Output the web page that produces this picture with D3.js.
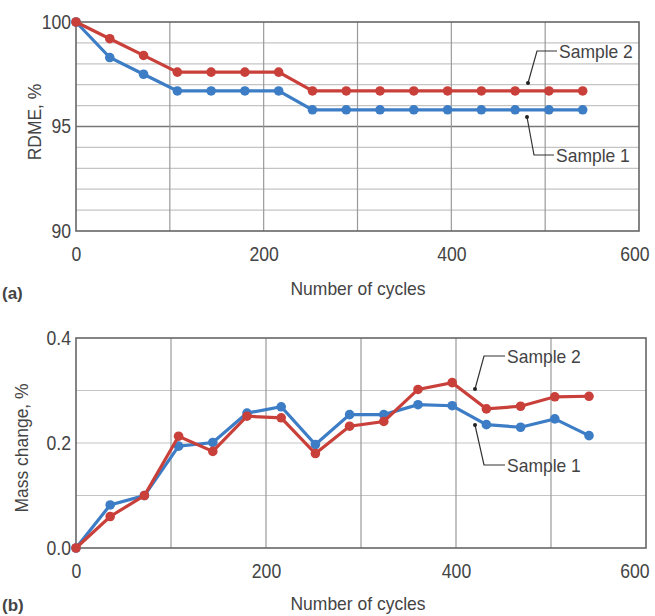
<!DOCTYPE html>
<html>
<head>
<meta charset="utf-8">
<script src="https://cdn.jsdelivr.net/npm/d3@7"></script>
<style>
  body { margin: 0; background: #fff; }
  text { font-family: "Liberation Sans", Arial, sans-serif; fill: #444; }
</style>
</head>
<body>
<svg id="chart" width="655" height="616"></svg>
<script>
// cycles at which the samples were measured
var cycles = [0, 36, 72, 108, 144, 180, 216, 252, 288, 324, 360, 396, 432, 468, 504, 540];

// (a) RDME, %
var rdmeSample1 = [100, 98.3, 97.5, 96.7, 96.7, 96.7, 96.7, 95.8, 95.8, 95.8, 95.8, 95.8, 95.8, 95.8, 95.8, 95.8];
var rdmeSample2 = [100, 99.2, 98.4, 97.6, 97.6, 97.6, 97.6, 96.7, 96.7, 96.7, 96.7, 96.7, 96.7, 96.7, 96.7, 96.7];

// (b) mass change, %
var massSample1 = [0, 0.082, 0.10, 0.194, 0.201, 0.257, 0.269, 0.197, 0.254, 0.254, 0.273, 0.271, 0.235, 0.230, 0.246, 0.214];
var massSample2 = [0, 0.060, 0.10, 0.213, 0.184, 0.251, 0.248, 0.180, 0.232, 0.241, 0.302, 0.315, 0.265, 0.270, 0.288, 0.289];

var xTicks = [0, 200, 400, 600];
var rdmeTicks = [90, 95, 100];
var massTicks = [0, 0.2, 0.4];

var red = "#c9403a", blue = "#3c7dc6";
var svg = d3.select("#chart");

function drawPanel(opt) {
    var x = d3.scaleLinear().domain([0, 600]).range([opt.left, opt.right]);
    var y = d3.scaleLinear().domain(opt.yDomain).range([opt.bottom, opt.top]);
    var g = svg.append("g");

    // grid
    g.selectAll(".hgrid").data(opt.yGrid).enter().append("line")
        .attr("x1", opt.left).attr("x2", opt.right)
        .attr("y1", function (d) { return y(d); }).attr("y2", function (d) { return y(d); })
        .attr("stroke", function (d) { return opt.yStrong.indexOf(d) >= 0 ? "#777" : "#c4c4c4"; })
        .attr("stroke-width", function (d) { return opt.yStrong.indexOf(d) >= 0 ? 1.6 : 1.2; });
    g.selectAll(".vgrid").data(d3.range(100, 600, 100)).enter().append("line")
        .attr("y1", opt.top).attr("y2", opt.bottom)
        .attr("x1", function (d) { return x(d); }).attr("x2", function (d) { return x(d); })
        .attr("stroke", "#9a9a9a").attr("stroke-width", 1.2);

    // frame
    g.append("rect")
        .attr("x", opt.left).attr("y", opt.top)
        .attr("width", opt.right - opt.left).attr("height", opt.bottom - opt.top)
        .attr("fill", "none").attr("stroke", "#666").attr("stroke-width", 1.6);

    // axes (labels only)
    var xAxis = d3.axisBottom(x).tickValues(xTicks).tickSize(0).tickPadding(16).tickFormat(d3.format("d"));
    var xg = g.append("g").attr("transform", "translate(0," + opt.bottom + ")").call(xAxis)
        .call(function (s) { s.select(".domain").remove(); });
    xg.selectAll("text").attr("class", "tick-label").style("font-size", "20px").attr("fill", "#444");
    // the last label is pulled inside the page, as in the figure
    xg.selectAll(".tick").filter(function (d) { return d === 600; }).select("text")
        .attr("text-anchor", "end").attr("x", 649 - opt.right);
    var yAxis = d3.axisLeft(y).tickValues(opt.yTicks).tickSize(0).tickPadding(5).tickFormat(opt.yFormat);
    g.append("g").attr("transform", "translate(" + opt.left + ",0)").call(yAxis)
        .call(function (s) { s.select(".domain").remove(); })
        .selectAll("text").attr("class", "tick-label").style("font-size", "20px").attr("fill", "#444");

    // series
    var line = d3.line().x(function (d) { return x(d[0]); }).y(function (d) { return y(d[1]); });
    [[opt.s1, blue], [opt.s2, red]].forEach(function (s) {
        var pts = cycles.map(function (c, i) { return [c, s[0][i]]; });
        g.append("path").datum(pts).attr("d", line)
            .attr("fill", "none").attr("stroke", s[1]).attr("stroke-width", 3.2);
        g.selectAll(null).data(pts).enter().append("circle")
            .attr("cx", function (d) { return x(d[0]); }).attr("cy", function (d) { return y(d[1]); })
            .attr("r", 4.8).attr("fill", s[1]);
    });

    // titles
    g.append("text").attr("class", "narrow").attr("x", 358).attr("y", opt.xTitleY)
        .attr("text-anchor", "middle").style("font-size", "19px").text("Number of cycles");
    g.append("text").attr("class", "narrow")
        .attr("transform", "translate(" + opt.yTitleX + "," + opt.yTitleY + ") rotate(-90)")
        .attr("text-anchor", "middle").style("font-size", "19px").text(opt.yTitle);
    g.append("text").attr("x", 2).attr("y", opt.tagY)
        .style("font-weight", "bold")
        .style("font-size", "17px").attr("fill", "#111").text(opt.tag);

    // callouts
    opt.callouts.forEach(function (c) {
        g.append("path")
            .attr("d", "M" + c.tx + "," + c.ty + "H" + c.kx + "L" + c.ax + "," + c.ay)
            .attr("fill", "none").attr("stroke", "#333").attr("stroke-width", 1.2);
        g.append("circle").attr("cx", c.ax).attr("cy", c.ay).attr("r", 2).attr("fill", "#222");
        g.append("text").attr("class", "narrow").attr("x", c.tx + 2).attr("y", c.ty + 7)
            .style("font-size", "19px").attr("fill", "#333").text(c.label);
    });
}

drawPanel({
    left: 76, right: 639, top: 22, bottom: 231,
    yDomain: [90, 100], yTicks: rdmeTicks, yFormat: d3.format("d"),
    yGrid: d3.range(91, 100), yStrong: [95],
    s1: rdmeSample1, s2: rdmeSample2,
    xTitleY: 295, yTitleX: 41, yTitleY: 122, yTitle: "RDME, %", tag: "(a)", tagY: 299,
    callouts: [
        { label: "Sample 2", tx: 557, ty: 51, kx: 537, ax: 528, ay: 83 },
        { label: "Sample 1", tx: 554, ty: 155, kx: 534, ax: 527, ay: 117 }
    ]
});

drawPanel({
    left: 76, right: 646, top: 338, bottom: 548,
    yDomain: [0, 0.4], yTicks: massTicks, yFormat: d3.format(".1f"),
    yGrid: [0.1, 0.2, 0.3], yStrong: [],
    s1: massSample1, s2: massSample2,
    xTitleY: 610, yTitleX: 28, yTitleY: 448, yTitle: "Mass change, %", tag: "(b)", tagY: 611,
    callouts: [
        { label: "Sample 2", tx: 505, ty: 356, kx: 484, ax: 475, ay: 389 },
        { label: "Sample 1", tx: 505, ty: 465, kx: 484, ax: 475, ay: 425 }
    ]
});

// squeeze the sans text toward the narrow face used in the figure
function squeeze(sel, k) {
    sel.each(function () {
        var w = this.getComputedTextLength();
        d3.select(this).attr("textLength", w * k).attr("lengthAdjust", "spacingAndGlyphs");
    });
}
squeeze(d3.selectAll("text.narrow"), 0.92);
squeeze(d3.selectAll("text.tick-label"), 0.88);
</script>
</body>
</html>
